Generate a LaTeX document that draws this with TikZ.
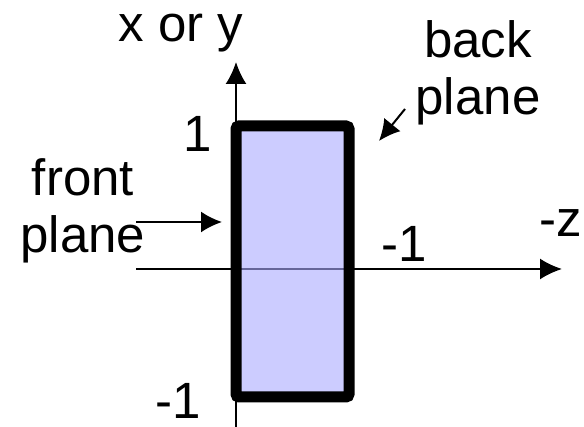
\documentclass[tikz,border=0pt]{standalone}
\usepackage{fontspec}
\setmainfont{Liberation Sans}
\usetikzlibrary{arrows.meta}
\definecolor{volfill}{RGB}{170,170,255}
\tikzset{
  axis/.style={-{Latex[length=22pt,width=21pt]}, line width=2pt, draw=black},
  pointer/.style={-{Latex[length=21pt,width=21pt]}, line width=2pt, draw=black},
  volume/.style={
    draw=black,
    line width=11pt,
    rounded corners=3pt,
    fill=volfill,
    fill opacity=0.6,
    inner sep=0pt
  },
  axlabel/.style={font=\fontsize{51}{57}\selectfont, inner sep=0pt, anchor=base, align=center}
}
\begin{document}
\begin{tikzpicture}[x=1pt,y=1pt]
  \useasboundingbox (0,0) rectangle (584,427);
  % axes
  \coordinate (ybot) at (236,0);
  \coordinate (ytop) at (236,365);
  \coordinate (zbeg) at (136,158);
  \coordinate (zend) at (562,158);
  \draw[axis] (ybot) -- (ytop);
  \draw[axis] (zbeg) -- (zend);
  % view volume
  \node[volume,minimum width=113pt,minimum height=271pt] (volbox) at (292.5,165.5) {};
  % labels
  \node[axlabel] (xylabel) at (181,385) {x or y};
  \node[axlabel] (backlabel) at (478,312) {back\\plane};
  \node[axlabel] (frontlabel) at (83,174) {front\\plane};
  \node[axlabel,anchor=base east] (ymax) at (212,275) {1};
  \node[axlabel,anchor=base east] (ymin) at (201,8) {-1};
  \node[axlabel] (zmin) at (404,165) {-1};
  \node[axlabel] (zlabel) at (561,190) {-z};
  % pointers
  \coordinate (frontfrom) at (136,205);
  \coordinate (frontto) at (222,205);
  \coordinate (backfrom) at (405,318);
  \coordinate (backto) at (379,286);
  \draw[pointer] (frontfrom) -- (frontto);
  \draw[pointer] (backfrom) -- (backto);
\end{tikzpicture}
\end{document}
